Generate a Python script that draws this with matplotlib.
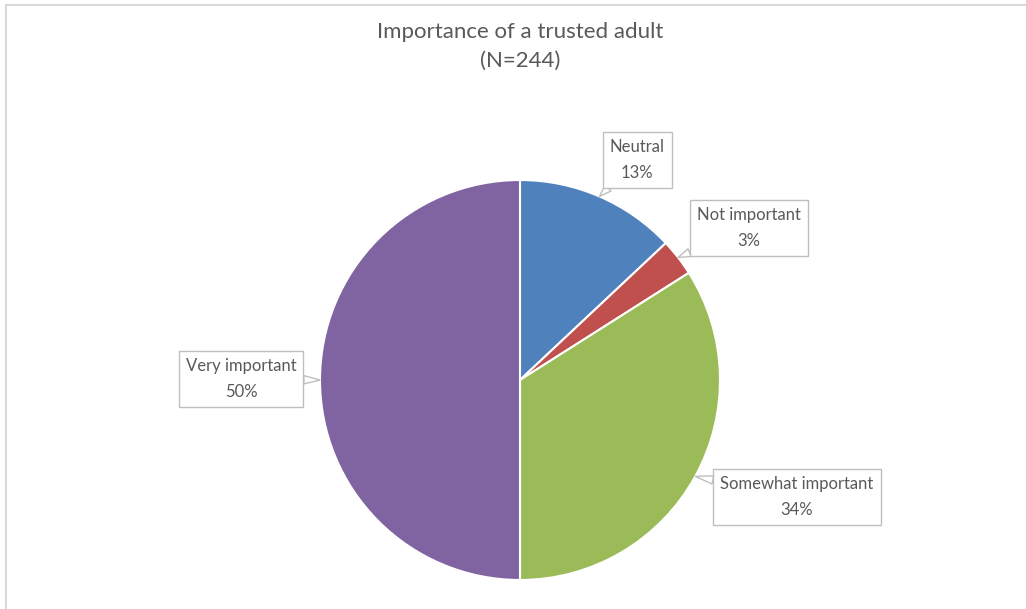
import numpy as np
import matplotlib
matplotlib.use("Agg")
import matplotlib.pyplot as plt
from matplotlib.lines import Line2D

# Survey responses (share of respondents, %)
categories = ["Neutral", "Not important", "Somewhat important", "Very important"]
shares = [13, 3, 34, 50]
colors = ["#4F81BD", "#C0504D", "#9BBB59", "#8064A2"]
title = "Importance of a trusted adult\n(N=244)"

# Label box centres in pie data units (radius = 1)
label_pos = [(0.585, 1.10), (1.145, 0.76), (1.385, -0.585), (-1.395, 0.005)]

plt.rcParams["font.family"] = ["Lato", "DejaVu Sans"]
text_color = "#595959"

W, H = 1026, 609
fig = plt.figure(figsize=(W / 100, H / 100), dpi=100)
fig.patch.set_facecolor("white")

# Chart-area border (top and left edges visible)
fig.add_artist(Line2D([6 / W, 6 / W], [0, 1 - 5 / H], transform=fig.transFigure,
                      color="#D9D9D9", lw=1.5))
fig.add_artist(Line2D([6 / W, 1], [1 - 5 / H, 1 - 5 / H], transform=fig.transFigure,
                      color="#D9D9D9", lw=1.5))

cx, cy, r = 520, 380, 200
ax = fig.add_axes([(cx - r) / W, (H - cy - r) / H, 2 * r / W, 2 * r / H])
wedges, _ = ax.pie(shares, colors=colors, startangle=90, counterclock=False,
                   radius=1, wedgeprops=dict(edgecolor="white", linewidth=1.5))
ax.set_xlim(-1, 1)
ax.set_ylim(-1, 1)
ax.set_aspect("equal")
ax.axis("off")

for w, name, val, (lx, ly) in zip(wedges, categories, shares, label_pos):
    mid = np.deg2rad((w.theta1 + w.theta2) / 2)
    tip = (np.cos(mid), np.sin(mid))
    ax.annotate(f"{name}\n{val}%", xy=tip, xytext=(lx, ly),
                ha="center", va="center", fontsize=12, color=text_color,
                linespacing=1.7, annotation_clip=False,
                bbox=dict(boxstyle="square,pad=0.42", fc="white", ec="#BFBFBF", lw=1),
                arrowprops=dict(arrowstyle="wedge,tail_width=0.5,shrink_factor=0.5",
                                fc="white", ec="#BFBFBF", lw=1,
                                shrinkA=0, shrinkB=0))

fig.text(cx / W, 1 - 46.5 / H, title, ha="center", va="center",
         fontsize=16, color=text_color, linespacing=1.6)

fig.savefig("out.png", dpi=100, facecolor="white")
